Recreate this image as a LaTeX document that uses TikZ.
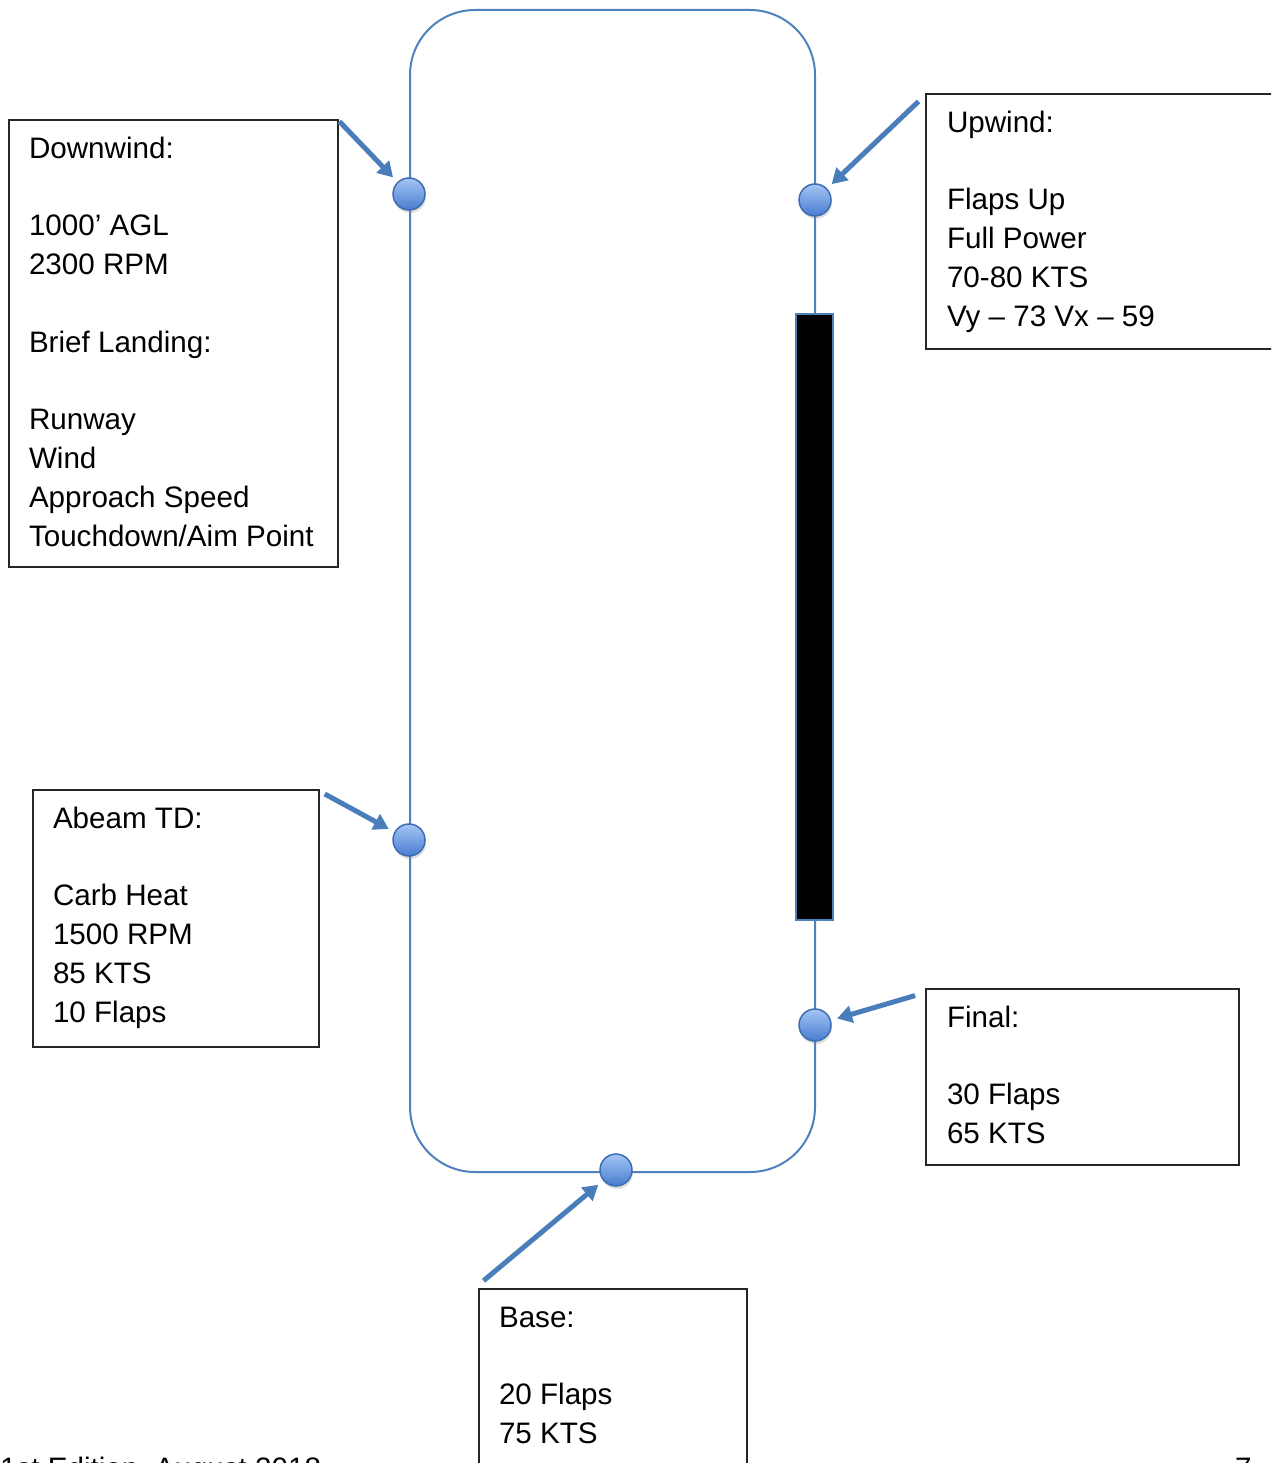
\documentclass[tikz,border=0pt]{standalone}
\usepackage{fontspec}
\setmainfont{Liberation Sans}
\usetikzlibrary{arrows.meta,shadows}
\definecolor{trk}{RGB}{79,129,189}
\definecolor{arrc}{RGB}{74,126,187}
\definecolor{dtop}{RGB}{165,198,245}
\definecolor{dbot}{RGB}{72,124,208}
\definecolor{dedge}{RGB}{62,110,178}
\tikzset{
  box/.style={draw=black!85, line width=1.2pt, anchor=north west, inner sep=0pt, outer sep=0pt},
  txt/.style={anchor=north west, inner sep=0pt, outer sep=0pt, align=left,
              font=\fontsize{29.6}{38.8}\selectfont},
  foot/.style={anchor=base west, inner sep=0pt, font=\fontsize{29.6}{38.8}\selectfont},
  dot/.style={circle, minimum size=32pt, inner sep=0pt, outer sep=0pt,
              top color=dtop, bottom color=dbot, draw=dedge, line width=1.5pt,
              drop shadow={opacity=0.25, shadow xshift=1pt, shadow yshift=-3pt}},
  arr/.style={draw=arrc, line width=5pt, -{Triangle[width=17pt,length=15pt]},
              shorten <=2pt, shorten >=7pt},
  track/.style={draw=trk, line width=2pt}
}
\begin{document}
\begin{tikzpicture}[x=1pt,y=-1pt]
\useasboundingbox (0,0) rectangle (1271,1463);
\clip (0,0) rectangle (1271,1463);
% traffic pattern
\draw[track, rounded corners=65pt] (410,10) rectangle (815,1172);
% runway
\draw[draw=trk, line width=2.5pt, fill=black] (796,314) rectangle (833,920);
% dots
\node[dot] (dDown) at (409,194) {};
\node[dot] (dUp) at (815,200) {};
\node[dot] (dAbeam) at (409,840) {};
\node[dot] (dFinal) at (815,1025) {};
\node[dot] (dBase) at (616,1170) {};
% boxes
\node[box, minimum width=329pt, minimum height=447pt] (bDown) at (9,120) {};
\node[box, minimum width=360pt, minimum height=255pt] (bUp) at (926,94) {};
\node[box, minimum width=286pt, minimum height=257pt] (bAbeam) at (33,790) {};
\node[box, minimum width=313pt, minimum height=176pt] (bFinal) at (926,989) {};
\node[box, minimum width=268pt, minimum height=220pt] (bBase) at (479,1289) {};
% texts
\node[txt] (tDown) at ([shift={(20,11)}]bDown.north west)
  {\strut Downwind:\\ \\ 1000’ AGL\\ 2300 RPM\\ \\ Brief Landing:\\ \\ Runway\\ Wind\\ Approach Speed\\ Touchdown/Aim Point};
\node[txt] (tUp) at ([shift={(21,11)}]bUp.north west)
  {\strut Upwind:\\ \\ Flaps Up\\ Full Power\\ 70-80 KTS\\ Vy – 73 Vx – 59};
\node[txt] (tAbeam) at ([shift={(20,11)}]bAbeam.north west)
  {\strut Abeam TD:\\ \\ Carb Heat\\ 1500 RPM\\ 85 KTS\\ 10 Flaps};
\node[txt] (tFinal) at ([shift={(21,11)}]bFinal.north west)
  {\strut Final:\\ \\ 30 Flaps\\ 65 KTS};
\node[txt] (tBase) at ([shift={(20,11)}]bBase.north west)
  {\strut Base:\\ \\ 20 Flaps\\ 75 KTS};
% arrows
\draw[arr] (bDown.north east) -- (dDown);
\draw[arr] ([shift={(-6,6)}]bUp.north west) -- (dUp);
\draw[arr] ([shift={(4,3)}]bAbeam.north east) -- (dAbeam);
\draw[arr] ([shift={(-9,6)}]bFinal.north west) -- (dFinal);
\draw[arr] ([shift={(3,-7)}]bBase.north west) -- (dBase);
% footer (cut off by the page edge, as in the reference)
\node[foot] (fEd) at (0,1478) {1st Edition, August 2018};
\node[foot] (fPg) at (1235,1478) {7};
\end{tikzpicture}
\end{document}
